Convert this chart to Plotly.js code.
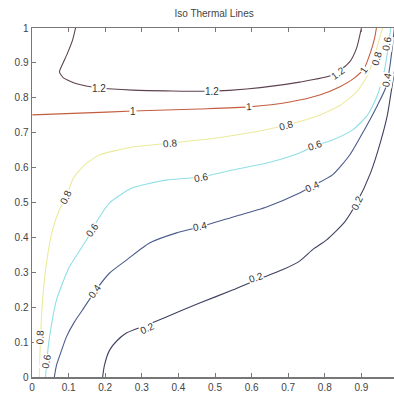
<!DOCTYPE html>
<html>
<head>
<meta charset="utf-8">
<script src="https://cdn.plot.ly/plotly-3.0.1.min.js"></script>
<style>html,body{margin:0;padding:0;background:#fff;}#chart{width:394px;height:397px;}</style>
</head>
<body>
<div id="chart"></div>
<script>
// Contour levels
const levels = [0.2, 0.4, 0.6, 0.8, 1, 1.2];

// Contour line coordinates
const x02 = [0.193,0.198,0.212,0.234,0.258,0.313,0.367,0.458,0.548,0.613,0.684,0.731,0.769,0.805,0.854,0.887,0.925,0.952,0.971,0.982,0.993];
const y02 = [0.000,0.034,0.077,0.106,0.126,0.149,0.172,0.212,0.249,0.278,0.307,0.332,0.367,0.393,0.444,0.499,0.585,0.673,0.751,0.822,0.894];

const x04 = [0.061,0.067,0.081,0.094,0.116,0.138,0.171,0.212,0.258,0.321,0.395,0.458,0.548,0.641,0.731,0.766,0.821,0.868,0.908,0.944,0.966,0.977,0.985,0.990];
const y04 = [0.000,0.034,0.077,0.115,0.158,0.192,0.244,0.298,0.335,0.384,0.413,0.430,0.458,0.487,0.527,0.547,0.579,0.636,0.708,0.779,0.828,0.885,0.951,1.000];

const x06 = [0.037,0.042,0.048,0.067,0.102,0.149,0.163,0.212,0.275,0.367,0.463,0.548,0.641,0.731,0.772,0.821,0.876,0.917,0.944,0.963,0.974,0.980];
const y06 = [0.000,0.063,0.115,0.221,0.315,0.393,0.421,0.499,0.542,0.564,0.573,0.593,0.613,0.642,0.662,0.679,0.708,0.751,0.808,0.880,0.951,1.000];

const x08 = [0.020,0.023,0.029,0.040,0.056,0.075,0.094,0.113,0.143,0.184,0.275,0.376,0.504,0.622,0.695,0.772,0.840,0.887,0.917,0.939,0.952,0.958];
const y08 = [0.000,0.106,0.221,0.330,0.421,0.479,0.516,0.570,0.607,0.636,0.659,0.670,0.685,0.705,0.722,0.745,0.777,0.817,0.865,0.931,0.980,1.000];

const x10 = [0.001,0.130,0.275,0.458,0.594,0.704,0.786,0.840,0.881,0.908,0.925,0.936,0.941];
const y10 = [0.751,0.756,0.762,0.768,0.774,0.788,0.808,0.831,0.857,0.885,0.931,0.971,1.000];

const x12 = [0.119,0.111,0.097,0.081,0.075,0.086,0.122,0.184,0.275,0.493,0.586,0.731,0.821,0.868,0.887,0.900];
const y12 = [1.000,0.966,0.928,0.891,0.874,0.857,0.840,0.828,0.822,0.819,0.825,0.845,0.865,0.903,0.943,1.000];

// Inline contour labels
const labelText = ["0.2","0.2","0.2", "0.4","0.4","0.4","0.4", "0.6","0.6","0.6","0.6","0.6", "0.8","0.8","0.8","0.8","0.8", "1","1","1", "1.2","1.2","1.2"];
const labelX = [0.313,0.613,0.889, 0.171,0.458,0.766,0.969, 0.040,0.163,0.463,0.772,0.970, 0.023,0.094,0.376,0.695,0.941, 0.275,0.594,0.908, 0.184,0.493,0.835];
const labelY = [0.140,0.284,0.499, 0.244,0.430,0.547,0.850, 0.043,0.421,0.573,0.662,0.955, 0.115,0.516,0.670,0.722,0.914, 0.762,0.774,0.880, 0.828,0.819,0.870];

// Tick labels
const xTicks = [0,0.1,0.2,0.3,0.4,0.5,0.6,0.7,0.8,0.9];
const xTickText = ["0","0.1","0.2","0.3","0.4","0.5","0.6","0.7","0.8","0.9"];
const yTicks = [0,0.1,0.2,0.3,0.4,0.5,0.6,0.7,0.8,0.9,1];
const yTickText = ["0","0.1","0.2","0.3","0.4","0.5","0.6","0.7","0.8","0.9","1"];

// Styles
const lineColors = ['#3d4160','#4b5b8c','#8fdfe6','#ecea9c','#c35d40','#5e4150'];
const labelAngles = [-25,-18,-65, -55,-12,-25,-80, -80,-55,-10,-18,-80, -88,-65,-5,-15,-75, 0,-3,-55, 0,0,-35];

const xs = [x02,x04,x06,x08,x10,x12];
const ys = [y02,y04,y06,y08,y10,y12];

const traces = levels.map((lv,i) => ({
  type: 'scatter', mode: 'lines', x: xs[i], y: ys[i],
  line: {color: lineColors[i], width: 1.1, shape: 'spline', smoothing: 0.6},
  hoverinfo: 'skip', showlegend: false, name: String(lv)
}));

const annotations = labelText.map((t,i) => ({
  x: labelX[i], y: labelY[i], xref: 'x', yref: 'y', text: t, showarrow: false,
  textangle: labelAngles[i], bgcolor: '#ffffff', borderpad: 0,
  font: {family: 'Liberation Sans, Arial, sans-serif', size: 10, color: '#333333'}
}));

const layout = {
  width: 394, height: 397,
  margin: {l: 32, r: 0, t: 28, b: 20, pad: 0},
  paper_bgcolor: '#ffffff', plot_bgcolor: '#ffffff',
  title: {text: 'Iso Thermal Lines', xref: 'paper', x: 0.503, xanchor: 'center', yref: 'container', y: 0.967, yanchor: 'middle',
          font: {family: 'Liberation Sans, Arial, sans-serif', size: 10, color: '#444444'}},
  xaxis: {range: [0, 0.989], tickvals: xTicks, ticktext: xTickText, ticks: 'inside', ticklen: 4, tickcolor: '#777777',
          showline: true, linecolor: '#777777', linewidth: 1.5, mirror: 'ticks', showgrid: false, zeroline: false,
          tickfont: {family: 'Liberation Sans, Arial, sans-serif', size: 10, color: '#444444'}, fixedrange: true},
  yaxis: {range: [0, 1], tickvals: yTicks, ticktext: yTickText, ticks: 'inside', ticklen: 4, tickcolor: '#777777',
          showline: true, linecolor: '#777777', linewidth: 1.5, mirror: false, showgrid: false, zeroline: false,
          tickfont: {family: 'Liberation Sans, Arial, sans-serif', size: 10, color: '#444444'}, fixedrange: true},
  annotations: annotations,
  hovermode: false
};

Plotly.newPlot('chart', traces, layout, {displayModeBar: false, staticPlot: true});
</script>
</body>
</html>
